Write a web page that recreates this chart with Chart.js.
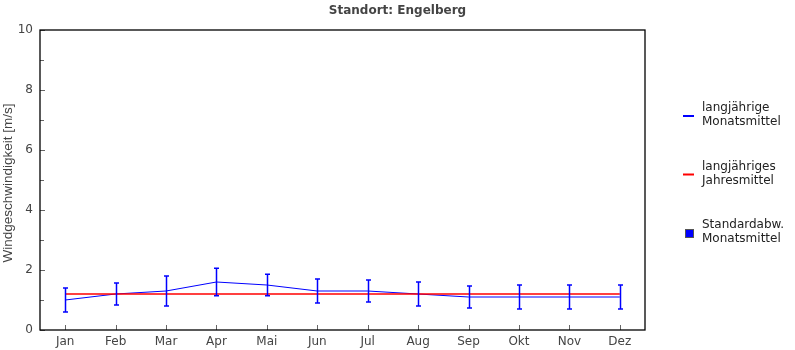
<!DOCTYPE html>
<html>
<head>
<meta charset="utf-8">
<script src="https://cdn.jsdelivr.net/npm/chart.js@4/dist/chart.umd.min.js"></script>
<style>
  html, body { margin: 0; padding: 0; background: #fff; }
  #wrap { width: 795px; height: 350px; position: relative; }
</style>
</head>
<body>
<div id="wrap"><canvas id="chart"></canvas></div>
<script>
const months = ['Jan', 'Feb', 'Mar', 'Apr', 'Mai', 'Jun', 'Jul', 'Aug', 'Sep', 'Okt', 'Nov', 'Dez'];
const monthlyMean = [1.0, 1.2, 1.3, 1.6, 1.5, 1.3, 1.3, 1.2, 1.1, 1.1, 1.1, 1.1];
const monthlyStd = [0.4, 0.37, 0.5, 0.46, 0.36, 0.4, 0.37, 0.4, 0.37, 0.4, 0.4, 0.4];
const annualMean = [1.2, 1.2, 1.2, 1.2, 1.2, 1.2, 1.2, 1.2, 1.2, 1.2, 1.2, 1.2];
const yTicks = [0, 2, 4, 6, 8, 10];

const chartTitle = 'Standort: Engelberg';
const yTitle = 'Windgeschwindigkeit [m/s]';
const legendItems = [
  { lines: ['langjährige', 'Monatsmittel'], color: '#0000ff', kind: 'line' },
  { lines: ['langjähriges', 'Jahresmittel'], color: '#ff0000', kind: 'line' },
  { lines: ['Standardabw.', 'Monatsmittel'], color: '#0000ff', kind: 'box' },
];

// error bars, inward ticks, frame, title and legend
const decor = {
  id: 'decor',
  afterDatasetsDraw(chart) {
    const ctx = chart.ctx;
    const a = chart.chartArea;
    const xs = chart.scales.x, ys = chart.scales.y;
    ctx.save();

    // error bars
    ctx.strokeStyle = '#0000ff';
    ctx.lineWidth = 1.5;
    monthlyMean.forEach((m, i) => {
      const x = Math.round(xs.getPixelForValue(i)) + 0.5;
      const top = ys.getPixelForValue(m + monthlyStd[i]);
      const bot = ys.getPixelForValue(m - monthlyStd[i]);
      ctx.beginPath();
      ctx.moveTo(x, top); ctx.lineTo(x, bot);
      ctx.moveTo(x - 2.5, top); ctx.lineTo(x + 2.5, top);
      ctx.moveTo(x - 2.5, bot); ctx.lineTo(x + 2.5, bot);
      ctx.stroke();
    });

    // inward ticks
    ctx.strokeStyle = '#666';
    ctx.lineWidth = 1;
    ctx.beginPath();
    for (let v = 0; v <= 10; v++) {
      const y = Math.round(ys.getPixelForValue(v)) + 0.5;
      const len = v % 2 === 0 ? 5 : 4;
      ctx.moveTo(a.left, y); ctx.lineTo(a.left + len, y);
    }
    months.forEach((_, i) => {
      const x = Math.round(xs.getPixelForValue(i)) + 0.5;
      ctx.moveTo(x, a.bottom); ctx.lineTo(x, a.bottom - 5);
    });
    ctx.stroke();

    // frame
    ctx.strokeStyle = '#000';
    ctx.lineWidth = 1.3;
    ctx.strokeRect(a.left, a.top, a.right - a.left, a.bottom - a.top);

    // title
    ctx.fillStyle = '#444';
    ctx.font = 'bold 12px "DejaVu Sans"';
    ctx.textAlign = 'center';
    ctx.textBaseline = 'middle';
    ctx.fillText(chartTitle, chart.width / 2, 11);

    // y axis title
    ctx.save();
    ctx.translate(8, (a.top + a.bottom) / 2 + 3);
    ctx.rotate(-Math.PI / 2);
    ctx.font = '13.5px "Liberation Sans"';
    ctx.fillText(yTitle, 0, 0);
    ctx.restore();

    // legend
    ctx.textAlign = 'left';
    ctx.font = '12px "DejaVu Sans"';
    legendItems.forEach((item, k) => {
      const cy = 116 + k * 58.5;
      if (item.kind === 'line') {
        ctx.strokeStyle = item.color;
        ctx.lineWidth = 2;
        ctx.beginPath();
        ctx.moveTo(683, cy); ctx.lineTo(694, cy);
        ctx.stroke();
      } else {
        ctx.fillStyle = item.color;
        ctx.fillRect(686, cy - 3, 7, 7);
        ctx.strokeStyle = '#555';
        ctx.lineWidth = 1;
        ctx.strokeRect(685.5, cy - 3.5, 8, 8);
      }
      ctx.fillStyle = '#222';
      ctx.fillText(item.lines[0], 702, cy - 8);
      ctx.fillText(item.lines[1], 702, cy + 6);
    });

    ctx.restore();
  }
};

new Chart(document.getElementById('chart'), {
  type: 'line',
  data: {
    labels: months,
    datasets: [
      {
        label: 'langjährige Monatsmittel',
        data: monthlyMean,
        borderColor: '#0000ff',
        borderWidth: 1,
        pointRadius: 0,
        tension: 0,
        order: 2,
      },
      {
        label: 'langjähriges Jahresmittel',
        data: annualMean,
        borderColor: '#ff0000',
        borderWidth: 1.5,
        pointRadius: 0,
        tension: 0,
        order: 1,
      },
    ],
  },
  options: {
    responsive: true,
    maintainAspectRatio: false,
    animation: false,
    layout: { padding: { top: 30, right: 150, bottom: 0, left: 0 } },
    plugins: {
      legend: { display: false },
      title: { display: false },
      tooltip: { enabled: false },
    },
    scales: {
      x: {
        offset: true,
        grid: { display: false, drawTicks: false },
        border: { display: false },
        ticks: {
          color: '#444',
          font: { family: 'DejaVu Sans', size: 12 },
          padding: 5,
          maxRotation: 0,
          autoSkip: false,
        },
        afterFit(scale) { scale.height = 20; },
      },
      y: {
        min: 0,
        max: 10,
        grid: { display: false, drawTicks: false },
        border: { display: false },
        afterBuildTicks(scale) { scale.ticks = yTicks.map(v => ({ value: v })); },
        ticks: {
          color: '#444',
          font: { family: 'DejaVu Sans', size: 12 },
          padding: 7,
        },
        afterFit(scale) { scale.width = 40; },
      },
    },
  },
  plugins: [decor],
});
</script>
</body>
</html>
